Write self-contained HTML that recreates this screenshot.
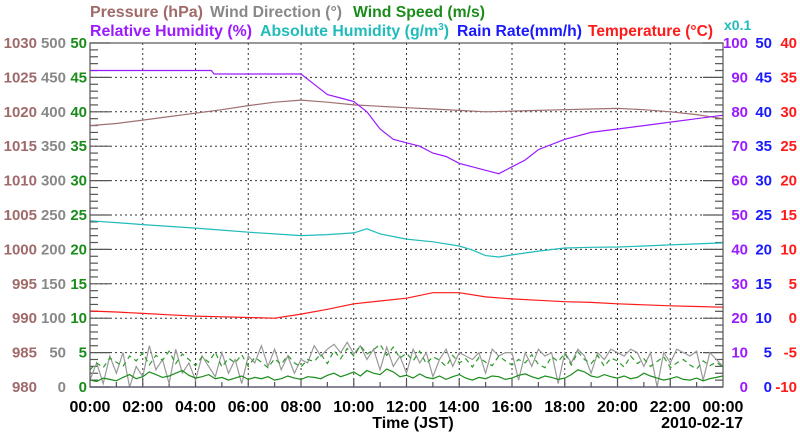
<!DOCTYPE html>
<html><head><meta charset="utf-8"><style>
body{margin:0;background:#fff;width:800px;height:434px;overflow:hidden}
svg{font-family:"Liberation Sans",sans-serif;font-weight:bold}
</style></head><body>
<svg id="chart" width="800" height="434" viewBox="0 0 800 434">
<g id="titles" font-size="16">
<text x="90" y="17" fill="#a06a6a" textLength="113" lengthAdjust="spacingAndGlyphs">Pressure (hPa)</text>
<text x="210" y="17" fill="#888" textLength="132" lengthAdjust="spacingAndGlyphs">Wind Direction (°)</text>
<text x="353" y="17" fill="#1a8c1a" textLength="132" lengthAdjust="spacingAndGlyphs">Wind Speed (m/s)</text>
<text x="90" y="36" fill="#9b1aff" textLength="162" lengthAdjust="spacingAndGlyphs">Relative Humidity (%)</text>
<text x="260" y="36" fill="#22bbbb" textLength="189" lengthAdjust="spacingAndGlyphs">Absolute Humidity (g/m<tspan font-size="10" dy="-6">3</tspan><tspan dy="6">)</tspan></text>
<text x="457" y="36" fill="#1a1aff" textLength="125" lengthAdjust="spacingAndGlyphs">Rain Rate(mm/h)</text>
<text x="588" y="36" fill="#ff1a1a" textLength="125" lengthAdjust="spacingAndGlyphs">Temperature (°C)</text>
<text x="724" y="30" fill="#22bbbb" font-size="14">x0.1</text>
</g>
<g id="grid"></g>
<g id="axes"></g>
<g id="series"></g>
<rect x="90" y="43" width="633" height="344" fill="none" stroke="#555" stroke-width="1.2"/>
<text x="413" y="428" text-anchor="middle" font-size="16">Time (JST)</text>
<text x="743" y="428" text-anchor="end" font-size="16">2010-02-17</text>
</svg>
<script>
const hours = [0,1,2,3,4,5,6,7,8,9,10,11,12,13,14,15,16,17,18,19,20,21,22,23,24];
const pressure = [1018.0,1018.3,1018.8,1019.3,1019.8,1020.3,1020.9,1021.4,1021.7,1021.4,1021.0,1020.8,1020.6,1020.4,1020.2,1020.0,1020.1,1020.2,1020.3,1020.4,1020.5,1020.3,1020.0,1019.6,1019.0];
const rhTimes = [0,4.6,4.7,8.0,8.5,9,9.5,10,10.5,11,11.5,12,12.5,13,13.5,14,14.5,15,15.5,16,16.5,17,18,19,20,21,22,23,24];
const relHumidity = [92,92,91,91,88,85,84,83,80,75,72,71,70,68,67,65,64,63,62,64,66,69,72,74,75,76,77,78,79];
const absTimes = [0,1,2,3,4,5,6,7,8,9,10,10.5,11,12,13,14,14.5,15,15.5,16,17,18,19,20,21,22,23,24];
const absHumidity = [48.3,47.8,47.2,46.7,46.2,45.6,45.0,44.5,44.0,44.3,44.8,46.0,44.5,43.0,42.2,41.0,39.8,38.2,37.8,38.4,39.5,40.4,40.6,40.7,41.0,41.3,41.6,41.9];
const temperature = [1.05,0.9,0.7,0.5,0.3,0.2,0.1,0.0,0.6,1.3,2.1,2.5,2.9,3.7,3.7,3.1,2.8,2.6,2.4,2.3,2.1,1.95,1.8,1.7,1.6];
const windDir = [10,35,5,45,20,50,0,30,15,60,25,40,5,55,20,35,10,45,30,15,50,20,40,5,45,35,60,30,55,25,45,20,40,35,60,45,55,62,50,65,48,60,40,55,25,58,30,45,20,55,35,50,15,40,55,30,50,45,40,50,20,55,45,50,50,10,50,30,55,45,50,5,50,35,55,45,20,50,40,55,50,45,55,50,30,50,0,50,35,55,50,45,52,10,50,40,30];
const windSpeed = [1.0,0.8,1.3,1.1,0.9,1.4,1.8,1.2,1.5,2.2,1.8,1.4,1.6,2.0,2.4,1.7,1.3,1.5,1.8,1.2,1.4,1.0,1.3,1.6,1.1,1.4,1.2,1.5,1.0,1.2,1.6,1.3,1.1,1.5,1.4,1.2,1.7,2.0,1.5,1.8,2.2,1.6,2.4,2.0,1.8,2.6,2.2,1.5,1.7,1.3,1.9,1.4,1.2,1.6,1.1,1.5,1.8,1.3,1.0,1.4,1.2,1.6,1.5,1.1,1.3,1.7,1.9,1.5,1.2,1.6,1.4,1.1,1.3,1.8,2.5,2.2,1.6,1.4,1.8,1.5,1.3,1.6,1.2,1.4,2.0,1.6,1.3,1.0,1.2,1.5,1.1,1.0,1.3,0.9,1.2,1.4,1.6];
const windGust = [2.5,3.5,2.8,4.2,3.6,3.0,4.5,3.8,5.0,3.2,4.6,3.9,5.2,3.4,4.8,4.0,3.1,4.4,3.6,5.1,2.9,4.2,3.5,4.7,3.0,4.3,3.6,2.8,4.1,3.3,4.6,3.5,2.9,4.0,3.7,4.8,3.4,5.3,4.1,5.6,4.5,6.0,4.8,5.4,6.2,4.6,5.8,4.2,4.9,3.8,5.2,3.4,4.4,3.9,3.0,4.6,3.5,4.1,2.9,4.3,3.6,3.1,4.5,3.8,3.2,4.0,3.5,4.7,3.3,2.8,4.4,3.7,4.9,3.2,5.1,4.0,3.4,4.6,3.0,4.2,3.8,2.9,4.5,3.4,4.1,3.0,3.7,4.4,2.8,3.5,4.0,3.2,2.6,3.8,3.1,3.6,2.9];
const timeLabels = ["00:00","02:00","04:00","06:00","08:00","10:00","12:00","14:00","16:00","18:00","20:00","22:00","00:00"];
const pressureTicks = [980,985,990,995,1000,1005,1010,1015,1020,1025,1030];
const dirTicks = [0,50,100,150,200,250,300,350,400,450,500];
const speedTicks = [0,5,10,15,20,25,30,35,40,45,50];
const rhTicks = [0,10,20,30,40,50,60,70,80,90,100];
const rainTicks = [0,5,10,15,20,25,30,35,40,45,50];
const tempTicks = [-10,-5,0,5,10,15,20,25,30,35,40];

const X0=90,X1=723,Y0=387,Y1=43;
const NS='http://www.w3.org/2000/svg';
const xh = h => X0 + (X1-X0)*h/24;
const lin = (lo,hi) => v => Y0 - (Y0-Y1)*(v-lo)/(hi-lo);
const yP=lin(980,1030), yDir=lin(0,500), ySpd=lin(0,50), yRH=lin(0,100), yT=lin(-10,40);
function mk(tag,attrs,parent){const e=document.createElementNS(NS,tag);for(const k in attrs)e.setAttribute(k,attrs[k]);parent.appendChild(e);return e;}
const grid=document.getElementById('grid'), axes=document.getElementById('axes'), series=document.getElementById('series');

for(let i=1;i<10;i++){const y=Y0-(Y0-Y1)*i/10;
 const g=mk('line',{x1:X0,x2:X1,y1:y,y2:y,stroke:'#333','stroke-dasharray':'2,3','stroke-width':1},grid);
 
 }
for(let i=1;i<12;i++){const x=xh(i*2);
 const g=mk('line',{x1:x,x2:x,y1:Y1,y2:Y0,stroke:'#333','stroke-dasharray':'2,3','stroke-width':1},grid);
 
 }
for(let i=0;i<=50;i++){const y=Y0-(Y0-Y1)*i/50;const L=i%5==0?20:8;
 mk('line',{x1:X0,x2:X0+L,y1:y,y2:y,stroke:'#555','stroke-width':1.2},axes);
 mk('line',{x1:X1,x2:X1-L,y1:y,y2:y,stroke:'#555','stroke-width':1.2},axes);}
for(let h=1;h<24;h++){const x=xh(h);
 mk('line',{x1:x,x2:x,y1:Y0,y2:Y0-(h%2==0?8:5),stroke:'#555','stroke-width':1.2},axes);}
function lab(txt,x,y,fill,anchor,name,fs){const t=mk('text',{x:x,y:y,fill:fill,'text-anchor':anchor,'font-size':fs||15},axes);t.textContent=txt;
 
 }
for(let i=0;i<=10;i++){const y=Y0-(Y0-Y1)*i/10+5;
 lab(pressureTicks[i],37,y,'#a06a6a','end','pressure-tick-label');
 lab(dirTicks[i],66,y,'#888','end','wind-direction-tick-label');
 lab(speedTicks[i],87,y,'#1a8c1a','end','wind-speed-tick-label');
 lab(rhTicks[i],748,y,'#9b1aff','end','humidity-tick-label');
 lab(rainTicks[i],772,y,'#1a1aff','end','rain-rate-tick-label');
 lab(tempTicks[i],797,y,'#ff1a1a','end','temperature-tick-label');}
timeLabels.forEach((t,i)=>lab(t,xh(i*2),412,'#000','middle','time-tick-label',16));

function line(ts,vs,yf,stroke,name,extra){const d=vs.map((v,i)=>(i?'L':'M')+xh(ts[i]).toFixed(1)+','+yf(v).toFixed(1)).join('');
 const p=mk('path',Object.assign({d:d,fill:'none',stroke:stroke,'stroke-width':1.2},extra||{}),series);
 
 }
const wt=windDir.map((_,i)=>i*24/(windDir.length-1));
line(wt,windDir,yDir,'#999','wind-direction-line');
line(wt,windGust,ySpd,'#2a9a2a','wind-gust-line',{'stroke-dasharray':'5,4'});
line(wt,windSpeed,ySpd,'#1a8c1a','wind-speed-line');
line(hours,pressure,yP,'#a07070','pressure-line');
line(rhTimes,relHumidity,yRH,'#9b1aff','relative-humidity-line');
line(absTimes,absHumidity,yRH,'#22bbbb','absolute-humidity-line');
line(hours,temperature,yT,'#ff1a1a','temperature-line');
line([0,24],[0,0],lin(0,50),'#4444cc','rain-rate-line');
</script>
</body></html>
